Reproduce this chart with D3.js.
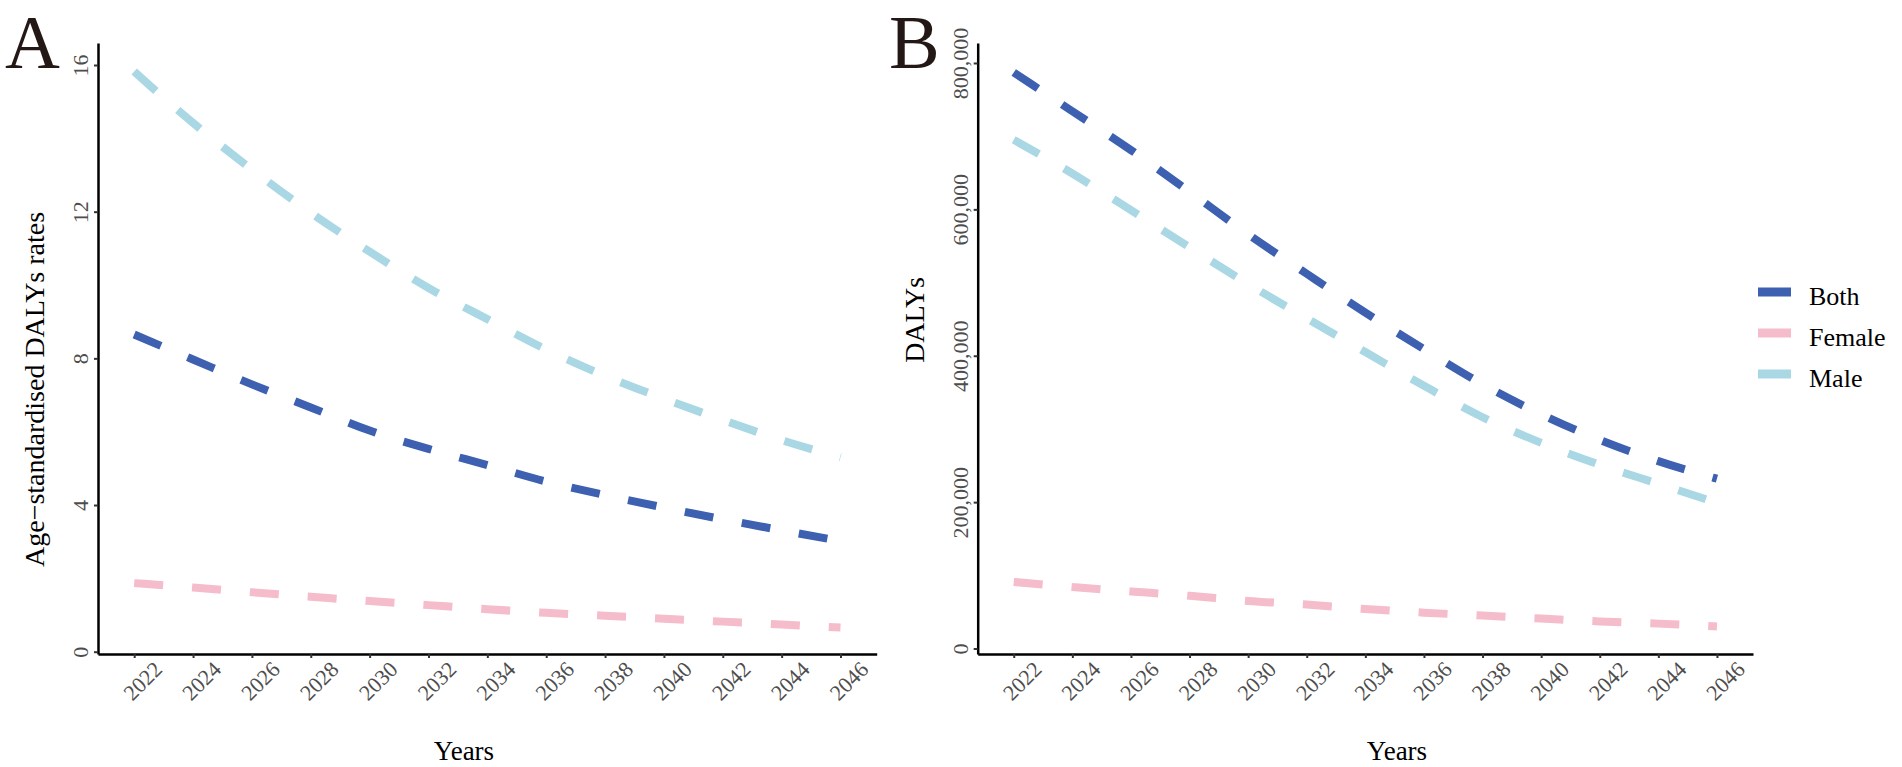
<!DOCTYPE html>
<html>
<head>
<meta charset="utf-8">
<script src="https://cdn.jsdelivr.net/npm/d3@7"></script>
<style>
  body { margin: 0; background: #fff; }
  svg { display: block; font-family: "Liberation Serif", "Times New Roman", serif; }
</style>
</head>
<body>
<svg id="chart" width="1902" height="767"></svg>
<script>
// data (even years only)
const years = [2022, 2024, 2026, 2028, 2030, 2032, 2034, 2036, 2038, 2040, 2042, 2044, 2046];
const asdrBoth   = [8.65, 7.97, 7.29, 6.66, 6.03, 5.53, 5.09, 4.64, 4.27, 3.93, 3.61, 3.31, 3.02];
const asdrFemale = [1.87, 1.75, 1.62, 1.50, 1.38, 1.27, 1.16, 1.06, 0.98, 0.90, 0.82, 0.74, 0.66];
const asdrMale   = [15.82, 14.42, 13.15, 11.97, 10.91, 9.92, 9.07, 8.24, 7.52, 6.90, 6.32, 5.77, 5.30];
const dalysBoth   = [787000, 734000, 681000, 624000, 566000, 512000, 459000, 409000, 361000, 320000, 285000, 256000, 232000];
const dalysFemale = [91000, 84000, 78000, 72000, 65000, 60000, 54000, 49000, 45000, 41000, 37000, 34000, 30000];
const dalysMale   = [695000, 649000, 599000, 548000, 498000, 451000, 405000, 359000, 316000, 281000, 251000, 225000, 199000];
const groups = ["Both", "Female", "Male"];
const colors = ["#3d60b1", "#f5bccb", "#a9d7e4"];
const asdrTicks = [0, 4, 8, 12, 16];
const dalysTicks = [0, 200000, 400000, 600000, 800000];

const svg = d3.select("#chart");
const axisY = 654;
const color = d3.scaleOrdinal().domain(groups).range(colors);

function panel(opt) {
  const x = d3.scaleLinear().domain([2020.77, 2047.23]).range([opt.left, opt.right]);
  const y = d3.scaleLinear().domain(opt.yDomain).range([axisY, 43]);
  const g = svg.append("g");

  const line = d3.line()
    .x((d, i) => x(years[i]))
    .y(d => y(d))
    .curve(d3.curveMonotoneX);

  opt.series.forEach((s, k) => {
    g.append("path")
      .datum(s)
      .attr("d", line)
      .attr("fill", "none")
      .attr("stroke", color(groups[k]))
      .attr("stroke-width", 8)
      .attr("stroke-dasharray", "29 29");
  });

  // y axis
  const ya = g.append("g")
    .attr("transform", `translate(${opt.left},0)`)
    .call(d3.axisLeft(y).tickValues(opt.yTicks).tickSize(4).tickSizeOuter(0).tickFormat(opt.fmt));
  ya.select(".domain").attr("stroke", "#000").attr("stroke-width", 2.5);
  ya.selectAll(".tick line").attr("stroke", "#333").attr("stroke-width", 2);
  ya.selectAll(".tick text")
    .attr("x", null).attr("dy", null)
    .attr("text-anchor", "middle")
    .attr("transform", "translate(-10,0) rotate(-90)")
    .attr("fill", "#4d4d4d")
    .style("font-size", "22px")
    .style("font-family", "Liberation Serif");

  // x axis
  const xa = g.append("g")
    .attr("transform", `translate(0,${axisY})`)
    .call(d3.axisBottom(x).tickValues(years).tickSize(4).tickSizeOuter(0).tickFormat(d3.format("d")));
  xa.select(".domain").attr("stroke", "#000").attr("stroke-width", 2.5);
  xa.selectAll(".tick line").attr("stroke", "#333").attr("stroke-width", 2);
  xa.selectAll(".tick text")
    .attr("y", null).attr("dy", null)
    .attr("text-anchor", "middle")
    .attr("dominant-baseline", "central")
    .attr("transform", "translate(8,27) rotate(-45)")
    .attr("fill", "#4d4d4d")
    .style("font-size", "22px")
    .style("font-family", "Liberation Serif");

  // titles
  g.append("text")
    .attr("transform", `translate(${opt.left - 54},${opt.yTitleY}) rotate(-90)`)
    .attr("text-anchor", opt.yTitleAnchor)
    .style("font-size", "28px")
    .attr("fill", "#000")
    .text(opt.yTitle);
  g.append("text")
    .attr("x", opt.xTitleX).attr("y", 760)
    .attr("text-anchor", "middle")
    .style("font-size", "27px")
    .attr("fill", "#000")
    .text("Years");

  g.append("text")
    .attr("x", opt.letterX).attr("y", 68)
    .style("font-size", "76px")
    .attr("fill", "#231815")
    .text(opt.letter);
}

panel({
  letter: "A", letterX: 5,
  left: 98, right: 876.7,
  yDomain: [-0.063, 16.6], yTicks: asdrTicks, fmt: d3.format("d"),
  series: [asdrBoth, asdrFemale, asdrMale],
  yTitle: "Age\u2212standardised DALYs rates", yTitleY: 567, yTitleAnchor: "start",
  xTitleX: 464
});

panel({
  letter: "B", letterX: 889,
  left: 977.7, right: 1753,
  yDomain: [-7500, 827300], yTicks: dalysTicks, fmt: d3.format(","),
  series: [dalysBoth, dalysFemale, dalysMale],
  yTitle: "DALYs", yTitleY: 277, yTitleAnchor: "end",
  xTitleX: 1397
});

// legend
const legend = svg.append("g").attr("transform", "translate(1758,292)");
groups.forEach((name, i) => {
  const row = legend.append("g").attr("transform", `translate(0,${i * 41})`);
  row.append("line")
    .attr("x1", 0).attr("x2", 33).attr("y1", 0).attr("y2", 0)
    .attr("stroke", color(name)).attr("stroke-width", 9);
  row.append("text")
    .attr("x", 51).attr("y", 13)
    .style("font-size", "26px")
    .attr("fill", "#000")
    .text(name);
});
</script>
</body>
</html>
